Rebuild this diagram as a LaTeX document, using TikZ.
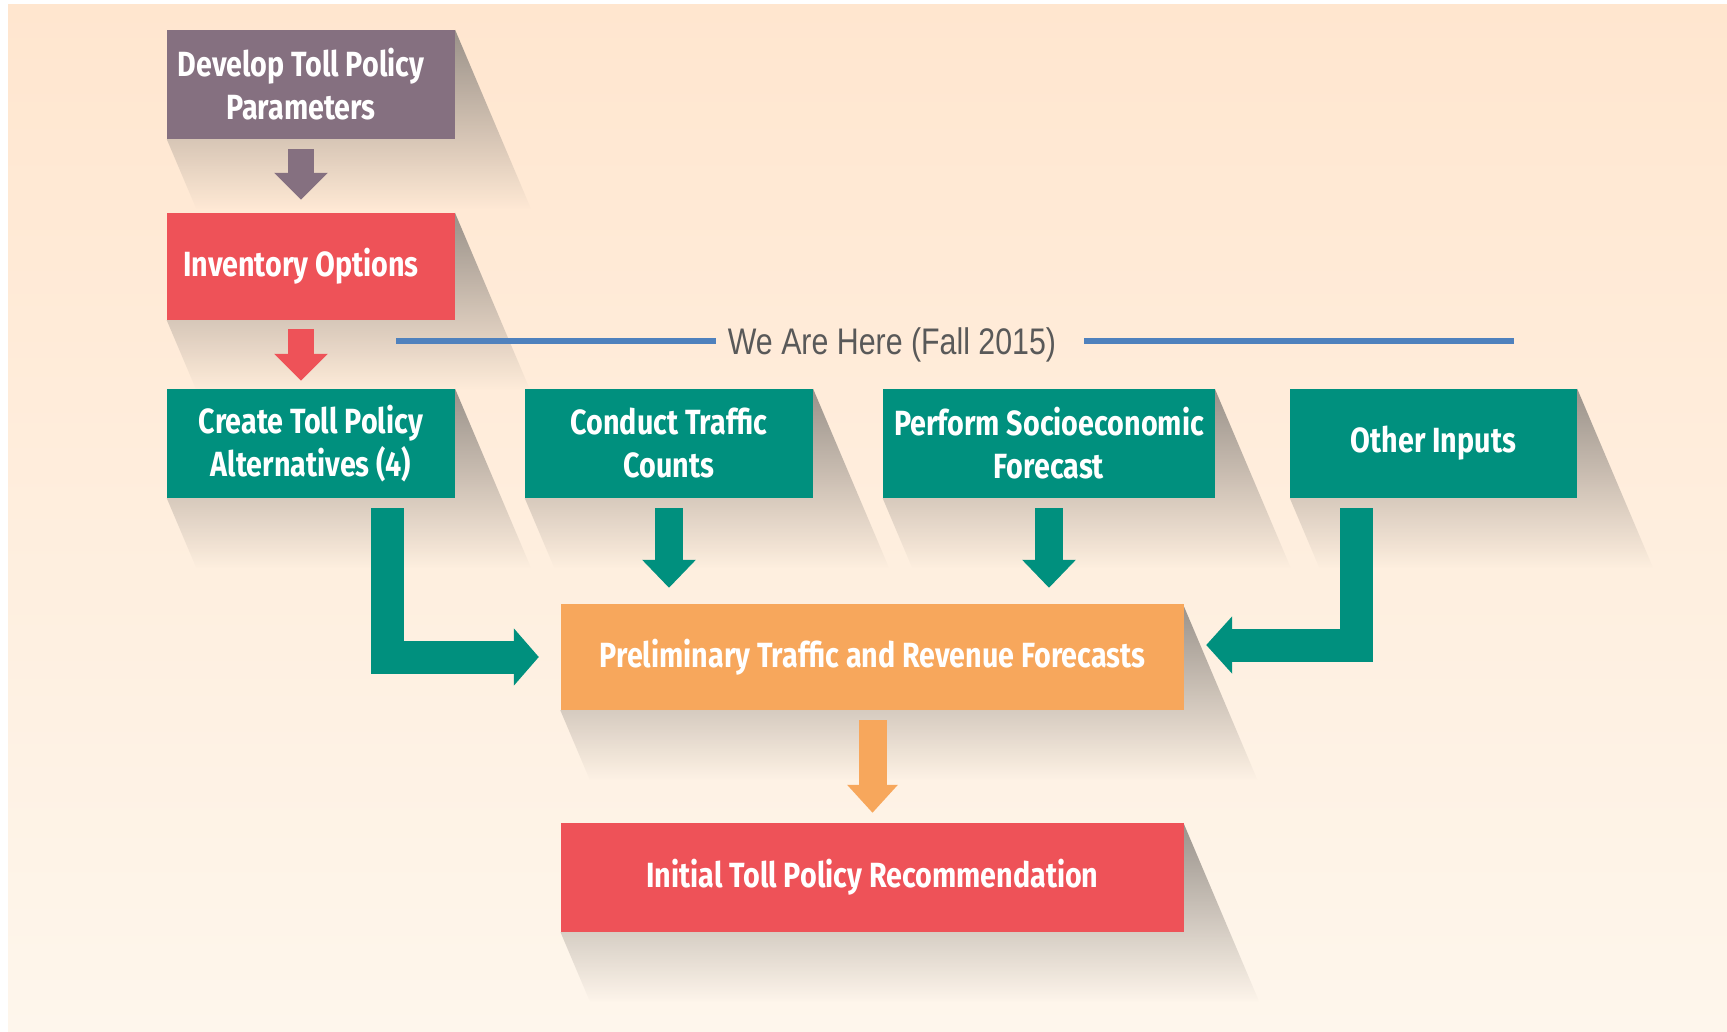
\documentclass[tikz,border=0pt]{standalone}
\usepackage{fontspec}
\usetikzlibrary{arrows.meta,calc,fadings}
\newfontfamily\boxfont[FakeStretch=0.82]{Fira Sans}
\newfontfamily\herefont[FakeStretch=0.82]{Liberation Sans}
\definecolor{bgtop}{RGB}{255,230,207}
\definecolor{bgbot}{RGB}{254,246,236}
\definecolor{cpurple}{RGB}{133,112,128}
\definecolor{cred}{RGB}{238,82,88}
\definecolor{cteal}{RGB}{0,144,126}
\definecolor{corange}{RGB}{247,167,92}
\definecolor{cshadow}{RGB}{140,134,128}
\definecolor{cline}{RGB}{79,129,189}
\definecolor{ctext}{RGB}{89,89,89}
\pgfdeclarelayer{bglayer}
\pgfdeclarelayer{shadowlayer}
\pgfsetlayers{bglayer,shadowlayer,main}
\tikzfading[name=shadowfade, top color=transparent!12, bottom color=transparent!100]
\tikzset{
  stepbox/.style={minimum width=288pt, minimum height=109pt, inner sep=0pt,
    text=white, font=\boxfont\bfseries\fontsize{35}{43}\selectfont, align=center},
  blockarrow/.style={line join=miter, line cap=butt},
  boxshadow/.style={fill=cshadow, path fading=shadowfade},
}
\begin{document}
\begin{tikzpicture}[x=1pt,y=1pt]
\useasboundingbox (0,0) rectangle (1727,-1032);
\begin{pgfonlayer}{bglayer}
  \fill[white] (0,0) rectangle (1727,-1032);
  \shade[top color=bgtop, bottom color=bgbot] (8,-5) rectangle (1727,-1032);
\end{pgfonlayer}

% boxes
\node[stepbox, fill=cpurple] (dev) at (311,-84.5) {\hspace*{-20pt}Develop Toll Policy\\\hspace*{-20pt}Parameters};
\node[stepbox, fill=cred, minimum height=107pt] (inv) at (311,-266.5) {\hspace*{-20pt}Inventory Options};
\node[stepbox, fill=cteal] (create) at (311,-443.5) {Create Toll Policy\\Alternatives (4)};
\node[stepbox, fill=cteal] (conduct) at (669,-443.5) {Conduct Traffic\\Counts};
\node[stepbox, fill=cteal, minimum width=332pt] (perform) at (1049,-443.5) {Perform Socioeconomic\\Forecast};
\node[stepbox, fill=cteal, minimum width=287pt] (other) at (1433.5,-443.5) {Other Inputs};
\node[stepbox, fill=corange, minimum width=623pt, minimum height=106pt] (prelim) at (872.5,-657) {Preliminary Traffic and Revenue Forecasts};
\node[stepbox, fill=cred, minimum width=623pt] (initial) at (872.5,-877.5) {Initial Toll Policy Recommendation};

% shadows: the box pushed down and right, fading out
\begin{pgfonlayer}{shadowlayer}
\foreach \bx in {dev,inv,create,conduct,perform,other,prelim,initial}{
  \path let \p1=(\bx.north east), \p2=(\bx.south west) in
    [boxshadow] (\x1,\y1) -- ({\x1+0.424*(\y1-\y2+70pt)},{\y2-70pt})
    -- ({\x2+0.424*70pt},{\y2-70pt}) -- (\x2,\y2) -- (\x1,\y2) -- cycle;
}
\end{pgfonlayer}

% arrows
\draw[blockarrow, cpurple, line width=26pt, -{Triangle[length=27pt,width=52pt]},
  shorten <=10pt, shorten >=13pt] ([xshift=-10pt]dev.south) -- ([xshift=-10pt]inv.north);
\draw[blockarrow, cred, line width=26pt, -{Triangle[length=27pt,width=52pt]},
  shorten <=9pt, shorten >=8pt] ([xshift=-10pt]inv.south) -- ([xshift=-10pt]create.north);
\draw[blockarrow, cteal, line width=28pt, -{Triangle[length=28pt,width=52pt]},
  shorten <=10pt, shorten >=16pt] (conduct.south) -- (conduct.south |- prelim.north);
\draw[blockarrow, cteal, line width=28pt, -{Triangle[length=28pt,width=52pt]},
  shorten <=10pt, shorten >=16pt] (perform.south) -- (perform.south |- prelim.north);
\draw[blockarrow, corange, line width=28pt, -{Triangle[length=28pt,width=49pt]},
  shorten <=10pt, shorten >=10pt] (prelim.south) -- (initial.north);
\draw[blockarrow, cteal, line width=33pt, -{Triangle[length=25pt,width=56pt]},
  shorten <=10pt, shorten >=22pt] ($(create.south west)+(221,0)$) |- (prelim.west);
\draw[blockarrow, cteal, line width=33pt, -{Triangle[length=26pt,width=56pt]},
  shorten <=10pt, shorten >=22pt] ($(other.south west)+(67,0)$) |- ([yshift=12pt]prelim.east);

% we are here
\node[font=\herefont\fontsize{37}{40}\selectfont, text=ctext, inner sep=0pt, anchor=base] (here) at (892,-354) {We Are Here (Fall 2015)};
\coordinate (hereL) at (396,-341);
\coordinate (hereR) at (1514,-341);
\draw[cline, line width=5pt] (hereL) -- ($(hereL -| here.west)+(-12,0)$);
\draw[cline, line width=5pt] ($(hereR -| here.east)+(28,0)$) -- (hereR);
\end{tikzpicture}
\end{document}
